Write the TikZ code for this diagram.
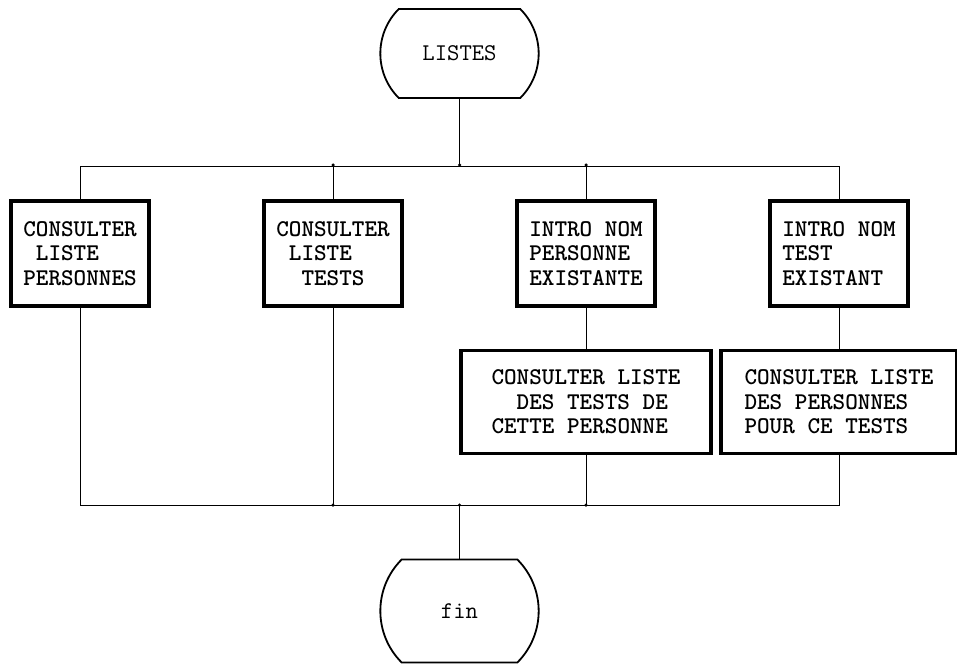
\documentclass[tikz,border=0pt]{standalone}
\usetikzlibrary{arrows.meta, positioning, shapes.misc, calc}

\begin{document}
\begin{tikzpicture}[
    x=1pt, y=1pt,
    >=Stealth,
    termnode/.style={draw, line width=1.8pt, rounded rectangle,
                     rounded rectangle arc length=90, minimum width=165pt,
                     font=\fontsize{24}{24.5}\selectfont\ttfamily},
    procbox/.style={draw, line width=3.2pt, minimum width=138pt, minimum height=105pt,
                    align=left, inner sep=2pt,
                    font=\fontsize{24}{24.5}\selectfont\ttfamily\bfseries},
    widebox/.style={procbox, minimum height=103pt},
    junction/.style={fill, circle, inner sep=0pt, minimum size=3.5pt},
    edge from parent/.style={draw, line width=0.9pt},
    level 1/.style={sibling distance=253pt, level distance=200pt,
      edge from parent path={(\tikzparentnode.south) -- ++(0,-67.5pt)
                             -| (\tikzchildnode.north)}},
    level 2/.style={level distance=148.5pt,
      edge from parent path={(\tikzparentnode.south) -- (\tikzchildnode.north)}}
  ]
  \useasboundingbox (0,0) rectangle (957,-667);

  \node[termnode, minimum height=89pt] (listes) at (459.5,-53.5) {LISTES}
    child { node[procbox] (cpers) {CONSULTER\\~LISTE\\PERSONNES} }
    child { node[procbox] (ctests) {CONSULTER\\~LISTE\\~~TESTS} }
    child { node[procbox] (ipers) {INTRO NOM\\PERSONNE\\EXISTANTE}
      child { node[widebox, minimum width=250pt] (lpers)
              {CONSULTER LISTE\\~~DES TESTS DE\\CETTE PERSONNE} }
    }
    child { node[procbox] (itest) {INTRO NOM\\TEST\\EXISTANT}
      child { node[widebox, minimum width=236pt] (ltest)
              {CONSULTER LISTE\\DES PERSONNES\\POUR CE TESTS} }
    };

  \node[termnode, minimum height=103pt] (fin) at (459.5,-611) {fin};

  % upper bus junctions
  \coordinate (jtop) at (listes.south |- 0,-165);
  \node[junction] at (ctests.north |- jtop) {};
  \node[junction] at (jtop) {};
  \node[junction] at (ipers.north |- jtop) {};

  % lower bus
  \coordinate (jbot) at (listes.south |- 0,-505);
  \draw[line width=0.9pt] (cpers.south) |- (jbot) -| (ltest.south);
  \draw[line width=0.9pt] (ctests.south) -- (ctests.south |- jbot);
  \draw[line width=0.9pt] (lpers.south) -- (lpers.south |- jbot);
  \draw[line width=0.9pt] (jbot) -- (fin.north);
  \node[junction] at (ctests.south |- jbot) {};
  \node[junction] at (jbot) {};
  \node[junction] at (lpers.south |- jbot) {};
\end{tikzpicture}
\end{document}
